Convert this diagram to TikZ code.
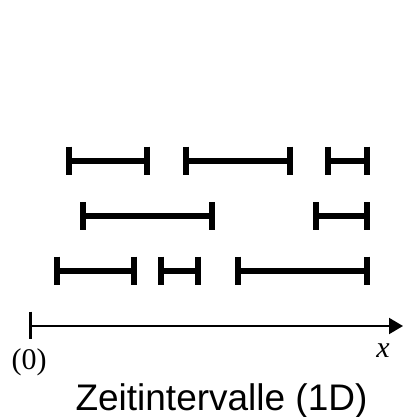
\documentclass[tikz,border=0pt]{standalone}
\usepackage{fontspec}
\setmainfont{Liberation Serif}
\setsansfont{Liberation Sans}
\usetikzlibrary{arrows.meta}
\newcommand\ival[3]{%
  \draw[ivline] (#1,-#3) -- (#2,-#3);
  \draw[ivline] (#1,-#3+14) -- (#1,-#3-14);
  \draw[ivline] (#2,-#3+14) -- (#2,-#3-14);
}
\begin{document}
\begin{tikzpicture}[x=1pt,y=1pt,
  ivline/.style={line width=6pt, line cap=butt},
  axisline/.style={line width=2pt, -{Triangle[length=14pt,width=16pt]}},
  ticksty/.style={line width=3pt}]
\useasboundingbox (0,0) rectangle (403,-417);
% row 1
\ival{69}{146.5}{160.7}
\ival{185.5}{289.5}{160.7}
\ival{328}{366.5}{160.7}
% row 2
\ival{82.5}{212}{216}
\ival{316}{366.5}{216}
% row 3
\ival{56.5}{134}{270.7}
\ival{160.5}{198.3}{270.7}
\ival{238}{366.5}{270.7}
% axis
\coordinate (o) at (30.5,-326);
\coordinate (e) at (403,-326);
\draw[ticksty] (30.5,-311.7) -- (30.5,-339);
\draw[axisline] (o) -- (e);
\node[anchor=base, inner sep=0pt, font=\fontsize{30}{34}\selectfont] (zero) at (29.2,-369.5) {(0)};
\node[anchor=base, inner sep=0pt, font=\itshape\fontsize{30}{34}\selectfont] (xl) at (383,-357) {x};
\node[anchor=base, inner sep=0pt, font=\sffamily\fontsize{37}{41}\selectfont] (title) at (221.5,-410) {Zeitintervalle (1D)};
\end{tikzpicture}
\end{document}
